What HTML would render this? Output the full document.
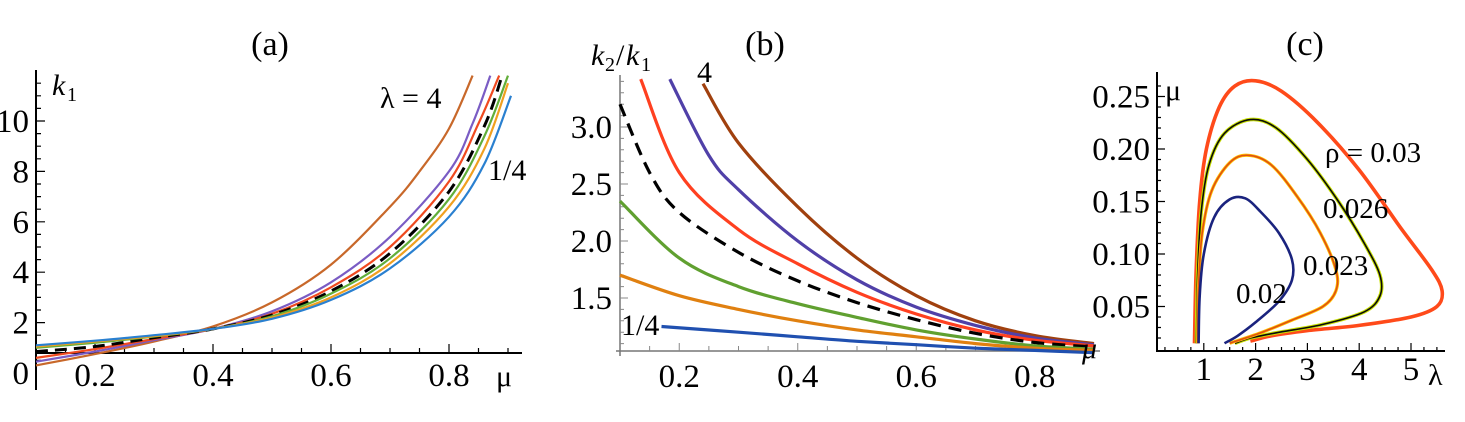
<!DOCTYPE html>
<html><head><meta charset="utf-8"><style>
html,body{margin:0;padding:0;background:#fff;}
svg, svg text{font-family:"Liberation Serif","Times New Roman",Times,"DejaVu Serif","Noto Serif CJK SC",serif;}
</style></head><body>
<svg id="fig" width="1465" height="417" viewBox="0 0 1465 417" xmlns="http://www.w3.org/2000/svg">
<g id="pa"></g>
<g id="pb"></g>
<g id="pc"></g>
</svg>
<script>
// ---- Panel (a) data: k1 vs mu ----
const aSeriesNames = ["lambda-4","lambda-2","lambda-1.5","lambda-1","lambda-0.75","lambda-0.5","lambda-0.25"];
const aMu = [
 [0.1,0.2,0.3,0.4,0.5,0.6,0.7,0.75,0.8,0.84],
 [0.1,0.2,0.3,0.4,0.5,0.6,0.7,0.8,0.84,0.87],
 [0.1,0.2,0.3,0.4,0.5,0.6,0.7,0.8,0.85,0.885],
 [0.1,0.2,0.3,0.4,0.5,0.6,0.7,0.8,0.86,0.89],
 [0.1,0.2,0.3,0.4,0.5,0.6,0.7,0.8,0.86,0.9],
 [0.1,0.2,0.3,0.4,0.5,0.6,0.7,0.8,0.86,0.9],
 [0.1,0.2,0.3,0.4,0.5,0.6,0.7,0.8,0.86,0.905]
];
const aK = [
 [0.3,0.75,1.25,1.85,2.8,4.3,6.6,8.0,9.7,11.8],
 [0.45,0.85,1.3,1.75,2.45,3.6,5.4,8.0,9.9,11.8],
 [0.6,0.95,1.35,1.75,2.35,3.4,5.0,7.6,9.9,11.8],
 [0.85,1.05,1.4,1.75,2.3,3.25,4.75,7.2,9.8,11.8],
 [1.0,1.2,1.45,1.75,2.25,3.15,4.55,6.9,9.4,11.8],
 [1.05,1.25,1.47,1.75,2.2,3.0,4.35,6.6,8.9,11.5],
 [1.1,1.28,1.5,1.75,2.15,2.9,4.15,6.2,8.3,11.0]
];
const aColors = ["#c8682a","#7a5cc4","#f04a20","#000","#62ae3a","#f0a020","#2a80d0"];
const aXTicks = [0.2,0.4,0.6,0.8];
const aYTicks = [0,2,4,6,8,10];

// ---- Panel (b) data: k2/k1 vs mu ----
const bMu = [
 [0.24,0.3,0.4,0.5,0.6,0.7,0.8,0.9],
 [0.184,0.25,0.3,0.4,0.5,0.6,0.7,0.8,0.9],
 [0.135,0.2,0.3,0.4,0.5,0.6,0.7,0.8,0.9],
 [0.1,0.15,0.2,0.3,0.4,0.5,0.6,0.7,0.8,0.9],
 [0.1,0.2,0.3,0.4,0.5,0.6,0.7,0.8,0.9],
 [0.1,0.2,0.3,0.4,0.5,0.6,0.7,0.8,0.9],
 [0.17,0.3,0.4,0.5,0.6,0.7,0.8,0.9]
];
const bK = [
 [3.38,2.86,2.3,1.85,1.52,1.3,1.17,1.1],
 [3.42,2.75,2.45,2.0,1.66,1.42,1.26,1.15,1.09],
 [3.42,2.6,2.1,1.8,1.55,1.36,1.22,1.13,1.08],
 [3.2,2.6,2.25,1.9,1.65,1.46,1.31,1.19,1.11,1.07],
 [2.35,1.85,1.6,1.45,1.33,1.22,1.14,1.08,1.05],
 [1.7,1.52,1.4,1.3,1.22,1.16,1.1,1.06,1.04],
 [1.25,1.2,1.16,1.12,1.09,1.06,1.04,1.02]
];
const bColors = ["#a0400e","#5040a8","#ff4020","#000","#60a030","#e08010","#2050b0"];
const bXTicks = [0.2,0.4,0.6,0.8];
const bYTicks = [1.5,2.0,2.5,3.0];

// ---- Panel (c) data: contours in (lambda, mu) ----
const cRho = ["0.03","0.026","0.023","0.02"];
const cLam = [
 [0.82,0.85,0.92,1.05,1.3,1.6,2.0,2.5,3.2,4.0,4.8,5.4,5.6,5.5,5.0,4.0,3.0,2.3,1.9],
 [0.86,0.88,0.95,1.1,1.4,1.9,2.4,3.0,3.6,4.1,4.4,4.4,4.1,3.3,2.4,1.9,1.6],
 [0.88,0.9,0.97,1.15,1.5,1.85,2.3,2.8,3.25,3.55,3.55,3.3,2.7,2.1,1.5],
 [0.9,0.92,1.0,1.2,1.5,1.8,2.1,2.45,2.7,2.7,2.45,2.0,1.65,1.4]
];
const cMu = [
 [0.015,0.08,0.15,0.2,0.24,0.26,0.265,0.255,0.225,0.18,0.125,0.085,0.065,0.05,0.04,0.032,0.027,0.022,0.017],
 [0.015,0.08,0.14,0.185,0.215,0.228,0.22,0.19,0.15,0.11,0.08,0.06,0.045,0.033,0.025,0.02,0.015],
 [0.015,0.07,0.12,0.16,0.187,0.194,0.185,0.155,0.12,0.085,0.065,0.05,0.037,0.025,0.015],
 [0.015,0.06,0.1,0.135,0.152,0.153,0.14,0.12,0.095,0.075,0.055,0.035,0.022,0.015]
];
const cXTicks = [1,2,3,4,5];
const cYTicks = [0.05,0.10,0.15,0.20,0.25];

const NS="http://www.w3.org/2000/svg";
const FONT="'Liberation Serif','Times New Roman',Times,'DejaVu Serif','Noto Serif CJK SC',serif";
function mk(parent,tag,attrs){const e=document.createElementNS(NS,tag);for(const k in attrs)e.setAttribute(k,attrs[k]);parent.appendChild(e);return e;}
function smooth(pts){
  let d="M"+pts[0][0].toFixed(1)+","+pts[0][1].toFixed(1);
  for(let i=0;i<pts.length-1;i++){
    const p0=pts[i-1]||pts[i],p1=pts[i],p2=pts[i+1],p3=pts[i+2]||p2;
    const c1=[p1[0]+(p2[0]-p0[0])/6,p1[1]+(p2[1]-p0[1])/6];
    const c2=[p2[0]-(p3[0]-p1[0])/6,p2[1]-(p3[1]-p1[1])/6];
    d+="C"+c1[0].toFixed(1)+","+c1[1].toFixed(1)+" "+c2[0].toFixed(1)+","+c2[1].toFixed(1)+" "+p2[0].toFixed(1)+","+p2[1].toFixed(1);
  }
  return d;
}
function txt(g,x,y,s,size,anchor,style){const t=mk(g,"text",{x:x,y:y,"font-size":size,"text-anchor":anchor||"start"});t.style.fontFamily=FONT;if(style)t.setAttribute("font-style",style);t.textContent=s;return t;}

// ===== Panel A =====
(function(){
  const g=document.getElementById("pa");
  const X=v=>36+(v-0.1)*590, Y=v=>373-v*25.2;
  const t=txt(g,270,55,"(a)",34,"middle");  
  const ax=mk(g,"path",{d:"M36,70 V390 M36,353 H522",stroke:"#000","stroke-width":2,fill:"none"});
   
  let td="";
  for(let v=0.15;v<0.93;v+=0.05){const x=X(v);const major=Math.round(v*20)%4==0;td+="M"+x+",353 v-"+(major?9:5);}
  for(let v=0.5;v<11.8;v+=0.5){td+="M36,"+Y(v)+" h"+(Math.round(v*2)%4==0?9:5);}
  mk(g,"path",{d:td,stroke:"#000","stroke-width":1.2,fill:"none"});
  aXTicks.forEach(v=>{const e=txt(g,X(v),386,v.toFixed(1),33,"middle");});
  aYTicks.forEach(v=>{const e=txt(g,29,Y(v)+11,String(v),33,"end");});
  aMu.forEach((mus,i)=>{
    const pts=mus.map((m,j)=>[X(m),Y(aK[i][j])]);
    const p=mk(g,"path",{d:smooth(pts),stroke:aColors[i],"stroke-width":i==3?3:2.2,fill:"none"});
    if(i==3)p.setAttribute("stroke-dasharray","12,7");
    
    
  });
  let e=txt(g,52,95,"k",30,"start","italic");  
  txt(g,67,101,"1",20);
  e=txt(g,380,108,"λ = 4",30);  
  e=txt(g,488,180,"1/4",30);  
  e=txt(g,496,386,"μ",30);  
})();

// ===== Panel B =====
(function(){
  const g=document.getElementById("pb");
  const X=v=>620+(v-0.1)*592.5, Y=v=>355-(v-1)*114;
  let e=txt(g,765,55,"(b)",34,"middle");  
  const ax=mk(g,"path",{d:"M620,75 V356 M616,351 H1100",stroke:"#777","stroke-width":1.5,fill:"none"});
   
  let td="";
  for(let v=0.15;v<0.93;v+=0.05){td+="M"+X(v)+",351 v-"+(Math.round(v*20)%4==0?8:5);}
  for(let v=1.1;v<3.45;v+=0.1){td+="M620,"+Y(v)+" h"+(Math.round(v*10)%5==0?8:4);}
  mk(g,"path",{d:td,stroke:"#888","stroke-width":1,fill:"none"});
  bXTicks.forEach(v=>{const t=txt(g,X(v),387,v.toFixed(1),33,"middle");});
  bYTicks.forEach(v=>{const t=txt(g,612,Y(v)+11,v.toFixed(1),33,"end");});
  bMu.forEach((mus,i)=>{
    const pts=mus.map((m,j)=>[X(m),Y(bK[i][j])]);
    const p=mk(g,"path",{d:smooth(pts),stroke:bColors[i],"stroke-width":3.2,fill:"none"});
    if(i==3)p.setAttribute("stroke-dasharray","13,8");
    
    
  });
  e=txt(g,591,65,"k",30,"start","italic");  
  txt(g,605,71,"2",20);
  txt(g,616,65,"/",30);
  txt(g,626,65,"k",30,"start","italic");
  txt(g,641,71,"1",20);
  e=txt(g,697,82,"4",30);  
  e=txt(g,621,335,"1/4",30);  
  e=txt(g,1082,358,"μ",30,"start","italic");  
})();

// ===== Panel C =====
(function(){
  const g=document.getElementById("pc");
  const X=v=>1152+v*51.8, Y=v=>359-v*1050;
  let e=txt(g,1305,55,"(c)",34,"middle");  
  const ax=mk(g,"path",{d:"M1157,72 V352 M1157,351 H1445",stroke:"#000","stroke-width":2,fill:"none"});
   
  let td="";
  for(let v=0.25;v<5.6;v+=0.25){td+="M"+X(v)+",351 v-"+(Math.abs(v-Math.round(v))<0.01?8:4);}
  for(let v=0.02;v<0.27;v+=0.01){td+="M1157,"+Y(v)+" h"+(Math.round(v*100)%5==0?8:4);}
  mk(g,"path",{d:td,stroke:"#000","stroke-width":1.2,fill:"none"});
  cXTicks.forEach(v=>{const t=txt(g,X(v),380,String(v),33,"middle");});
  cYTicks.forEach(v=>{const t=txt(g,1150,Y(v)+11,v.toFixed(2),33,"end");});
  const outer=["#ff4a1a","#c8e000","#ffc000","#1a237e"], inner=[null,"#0a0a0a","#e05010",null], w=[3.6,3.6,3.2,2.6];
  cLam.forEach((ls,i)=>{
    const d=smooth(ls.map((l,j)=>[X(l),Y(cMu[i][j])]));
    const p=mk(g,"path",{d:d,stroke:outer[i],"stroke-width":w[i],fill:"none"});
    
    
    if(inner[i]){const q=mk(g,"path",{d:d,stroke:inner[i],"stroke-width":1.6,fill:"none"});}
  });
  e=txt(g,1165,100,"μ",30);  
  e=txt(g,1428,385,"λ",30);  
  e=txt(g,1325,162,"ρ = 0.03",29);  
  e=txt(g,1323,218,"0.026",29);  
  e=txt(g,1303,275,"0.023",29);  
  e=txt(g,1236,303,"0.02",29);  
})();
</script>
</body></html>
